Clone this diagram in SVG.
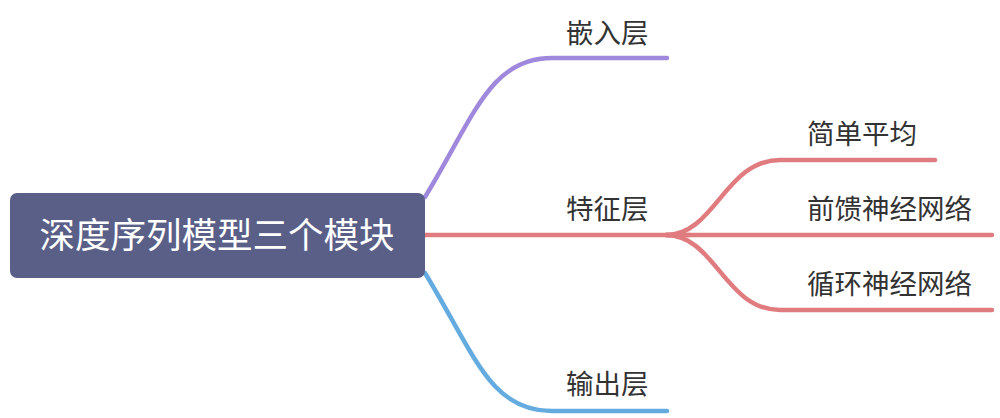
<svg xmlns="http://www.w3.org/2000/svg" width="1000" height="418" viewBox="0 0 1000 418">
<style>
.c{fill:none;stroke-width:4.5;stroke-linecap:round}
.l{font-family:"Noto Sans CJK SC","Noto Sans",sans-serif;font-size:27.5px;fill:#333}
.r{font-family:"Noto Sans CJK SC","Noto Sans",sans-serif;font-size:35.5px;fill:#fff}
</style>
<rect width="1000" height="418" fill="#fff"/>
<g id="connectors">
<path class="c" stroke="#A088DC" d="M425 197 C475 115,490 58,552 58 L667 58"/>
<path class="c" stroke="#E07C7F" d="M425 235 L690 235"/>
<path class="c" stroke="#64ACE0" d="M425 273 C475 355,490 411,552 411 L667 411"/>
<path class="c" stroke="#E07C7F" d="M666 235 C715 235,725 160,780 160 L935 160"/>
<path class="c" stroke="#E07C7F" d="M666 235 L992 235"/>
<path class="c" stroke="#E07C7F" d="M666 235 C715 235,725 310,780 310 L992 310"/>
</g>
<g id="root">
<rect x="10" y="193" width="415" height="85" rx="7" fill="#5A5F87"/>
<text class="r" x="217" y="248" text-anchor="middle">深度序列模型三个模块</text>
</g>
<g id="n1"><text class="l" x="566" y="43">嵌入层</text></g>
<g id="n2"><text class="l" x="566" y="219">特征层</text></g>
<g id="n3"><text class="l" x="566" y="394">输出层</text></g>
<g id="n21"><text class="l" x="807" y="144">简单平均</text></g>
<g id="n22"><text class="l" x="807" y="219">前馈神经网络</text></g>
<g id="n23"><text class="l" x="807" y="294">循环神经网络</text></g>
</svg>
